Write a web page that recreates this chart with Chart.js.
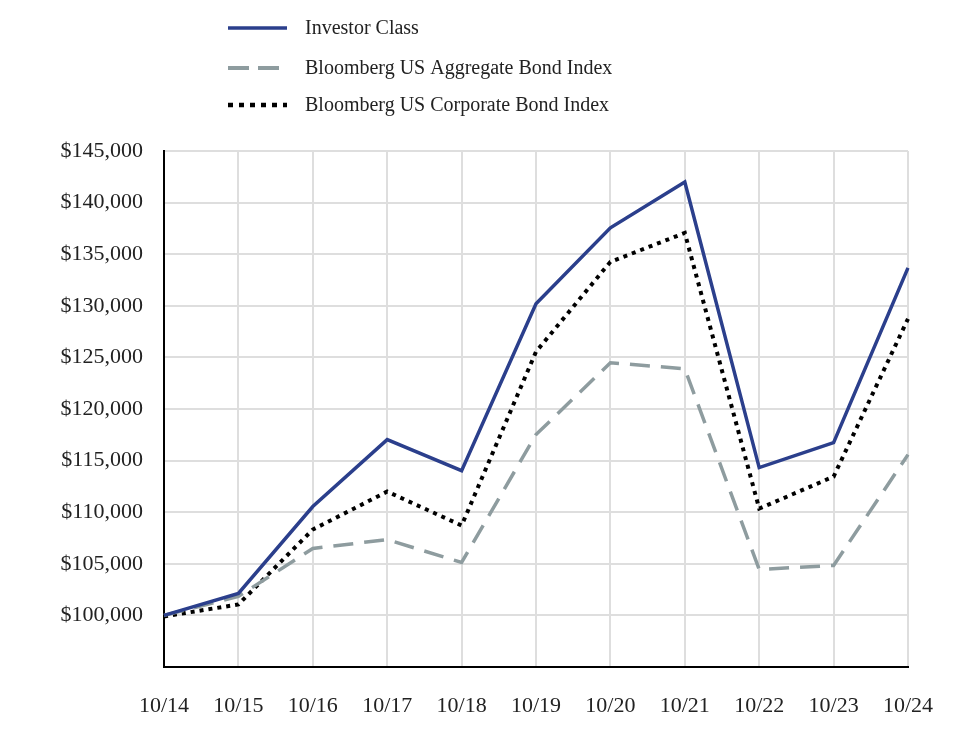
<!DOCTYPE html>
<html>
<head>
<meta charset="utf-8">
<script src="https://cdn.jsdelivr.net/npm/chart.js@4.4.1/dist/chart.umd.min.js"></script>
<style>
  html, body { margin: 0; padding: 0; background: #fff; }
  #wrap { width: 964px; height: 740px; }
</style>
</head>
<body>
<div id="wrap"><canvas id="myChart" width="964" height="740"></canvas></div>
<script>
// data
var years = ['10/14', '10/15', '10/16', '10/17', '10/18', '10/19', '10/20', '10/21', '10/22', '10/23', '10/24'];
var investorClass = [100000, 102130, 110550, 117030, 114030, 130190, 137550, 142000, 114320, 116740, 133680];
var aggregateIndex = [100000, 101840, 106480, 107350, 105130, 117520, 124480, 123900, 104450, 104840, 115580];
var corporateIndex = [99900, 101060, 108320, 112000, 108710, 125550, 134260, 137060, 110350, 113450, 128740];
var seriesNames = ['Investor Class', 'Bloomberg US Aggregate Bond Index', 'Bloomberg US Corporate Bond Index'];

var FONT = '"Liberation Serif", "DejaVu Serif", serif';

//////////////////////////////////////
//          Legend plugin           //
//////////////////////////////////////

const topLegend = {
    id: 'topLegend',
    afterDraw: function(chart) {
        const ctx = chart.ctx;
        const rows = [28, 68, 105];
        ctx.save();
        chart.data.datasets.forEach((ds, i) => {
            let y = rows[i];
            ctx.beginPath();
            ctx.strokeStyle = ds.borderColor;
            ctx.lineWidth = ds.legendWidth;
            ctx.setLineDash(ds.legendDash);
            ctx.moveTo(228, y);
            ctx.lineTo(287, y);
            ctx.stroke();
            ctx.setLineDash([]);
            ctx.fillStyle = '#222';
            ctx.font = '20px ' + FONT;
            ctx.textBaseline = 'middle';
            ctx.fillText(ds.label, 305, y + 1);
        });
        ctx.restore();
    }
};

//////////////////////////////////////
//             Chart                //
//////////////////////////////////////

const ctx = document.getElementById('myChart').getContext('2d');
const chart = new Chart(ctx, {
    type: 'line',
    data: {
        labels: years,
        datasets: [
            {
                label: seriesNames[0],
                data: investorClass,
                borderColor: '#2b3f8c',
                borderWidth: 3.5,
                legendWidth: 3.5,
                legendDash: [],
                pointRadius: 0,
                tension: 0
            },
            {
                label: seriesNames[1],
                data: aggregateIndex,
                borderColor: '#8e9c9f',
                borderWidth: 3.5,
                borderDash: [20, 11],
                legendWidth: 4,
                legendDash: [21, 9],
                pointRadius: 0,
                tension: 0
            },
            {
                label: seriesNames[2],
                data: corporateIndex,
                borderColor: '#000000',
                borderWidth: 4,
                borderDash: [4, 5],
                legendWidth: 4.5,
                legendDash: [5, 6],
                pointRadius: 0,
                tension: 0
            }
        ]
    },
    options: {
        responsive: false,
        animation: false,
        layout: { padding: { top: 151, right: 56, left: 0, bottom: 0 } },
        plugins: {
            legend: { display: false },
            tooltip: { enabled: false }
        },
        scales: {
            x: {
                offset: false,
                grid: { color: '#dedede', lineWidth: 2, drawTicks: false },
                border: { color: '#000', width: 2 },
                ticks: {
                    color: '#222',
                    font: { family: FONT, size: 22 },
                    padding: 26,
                    maxRotation: 0
                },
                afterFit: function(scale) { scale.height = 73; }
            },
            y: {
                min: 95000,
                max: 145000,
                grid: { color: '#dedede', lineWidth: 2, drawTicks: false },
                border: { color: '#000', width: 2 },
                ticks: {
                    stepSize: 5000,
                    color: '#222',
                    font: { family: FONT, size: 22 },
                    padding: 21,
                    callback: function(v) {
                        if (v < 100000) return '';
                        return '$' + v.toLocaleString('en-US');
                    }
                },
                afterFit: function(scale) { scale.width = 164; }
            }
        }
    },
    plugins: [topLegend]
});
</script>
</body>
</html>
